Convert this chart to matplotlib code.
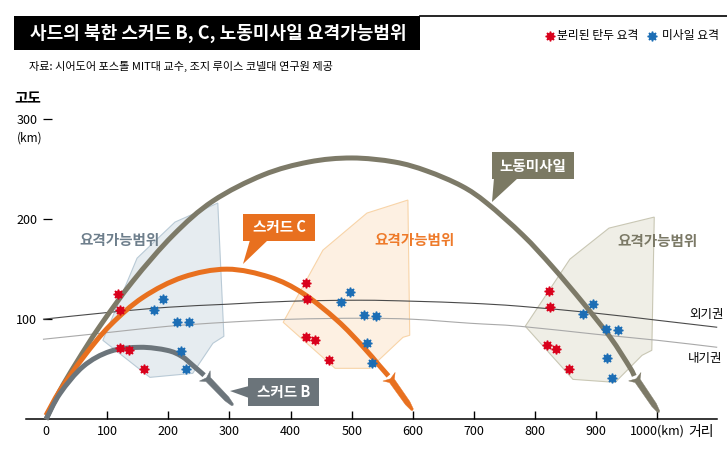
import numpy as np
import matplotlib
matplotlib.use('Agg')
import matplotlib.pyplot as plt
from matplotlib.patches import Polygon, Rectangle, PathPatch
from matplotlib.path import Path

plt.rcParams['font.family'] = ['Noto Sans CJK KR', 'DejaVu Sans']

# ---- 데이터 (그림에서 읽은 값, km) ----
nodong_x = [0, 22, 50, 88, 142, 208, 273, 355, 430, 500, 570, 623, 680, 721, 780, 829, 879, 923, 955, 965, 1003]
nodong_h = [0, 28, 57, 93, 138, 184, 218, 244, 257, 261, 257, 248, 233, 216, 184, 152, 116, 82, 52, 41, 7]

scud_c_x = [0, 23, 61, 105, 159, 224, 296, 366, 420, 476, 518, 545, 563, 600]
scud_c_h = [4, 29, 62, 94, 122, 142, 150, 142, 126, 99, 73, 54, 41, 9]

scud_b_x = [0, 23, 61, 105, 154, 198, 222, 242, 262, 306]
scud_b_h = [0, 26, 53, 68, 72, 69, 63, 53, 42, 14]

# 외기권 / 내기권 경계선
outer_x = [-5, 105, 200, 296, 400, 514, 600, 694, 775, 900, 1000, 1098]
outer_h = [100, 107, 112, 115, 118, 119, 118, 116, 113, 106, 99, 92]
inner_x = [-5, 105, 200, 296, 400, 514, 600, 694, 775, 900, 1000, 1098]
inner_h = [80, 87, 93, 97, 100, 101, 100, 96, 93, 85, 79, 72]

# 요격가능범위 영역
zone_b = [(93, 79), (149, 161), (211, 197), (281, 216), (291, 83), (273, 76), (240, 46), (170, 42)]
zone_c = [(388, 97), (453, 169), (525, 206), (592, 219), (595, 84), (584, 82), (530, 51), (473, 51)]
zone_n = [(784, 93), (857, 160), (921, 191), (995, 202), (991, 69), (975, 64), (931, 37), (862, 40)]

# 요격 지점
red_x = [118, 121, 121, 136, 160, 425, 427, 425, 440, 463, 823, 824, 820, 834, 856]
red_h = [125, 109, 71, 69, 50, 136, 120, 82, 79, 59, 128, 112, 74, 70, 50]
blue_x = [191, 177, 214, 234, 221, 229, 497, 483, 520, 540, 525, 533, 895, 878, 916, 936, 918, 926]
blue_h = [120, 109, 97, 97, 68, 50, 127, 117, 104, 103, 76, 56, 115, 105, 90, 89, 61, 41]

x_ticks = [0, 100, 200, 300, 400, 500, 600, 700, 800, 900, 1000]
x_labels = ['0', '100', '200', '300', '400', '500', '600', '700', '800', '900', '1000(km)']
y_ticks = [100, 200, 300]

W, H = 727, 463
fig = plt.figure(figsize=(W / 100, H / 100), dpi=100)
ax = fig.add_axes([0, 0, 1, 1])
ax.set_xlim(-75.25, 1114.0)
ax.set_ylim(-43.5, 418.7)


def fx(px):
    return px / W


def fy(py):
    return 1 - py / H


def smooth_path(pts):
    # 점들을 지나는 부드러운 곡선 (Catmull-Rom -> 베지어), 화면 좌표에서 계산
    pts = np.asarray(pts, dtype=float)
    ext = np.vstack([pts[0], pts, pts[-1]])
    verts = [pts[0]]
    codes = [Path.MOVETO]
    for i in range(1, len(ext) - 2):
        p0, p1, p2, p3 = ext[i - 1], ext[i], ext[i + 1], ext[i + 2]
        verts += [p1 + (p2 - p0) / 6, p2 - (p3 - p1) / 6, p2]
        codes += [Path.CURVE4] * 3
    return np.array(verts), codes


def curve(pts_disp, color, lw, z):
    verts, codes = smooth_path(pts_disp)
    verts = ax.transData.inverted().transform(verts)
    ax.add_patch(PathPatch(Path(verts, codes), fill=False, ec=color, lw=lw,
                           capstyle='butt', joinstyle='round', zorder=z))


# 축
for s in ['top', 'right', 'left']:
    ax.spines[s].set_visible(False)
ax.spines['bottom'].set_position(('data', 0))
ax.spines['bottom'].set_bounds(-33, 1098)
ax.spines['bottom'].set_linewidth(1.1)
ax.spines['left'].set_position(('data', 9.8))
ax.set_xticks(x_ticks)
ax.set_xticklabels(x_labels)
ax.set_yticks(y_ticks)
ax.tick_params(axis='x', direction='in', length=6, width=1, pad=4, labelsize=9)
ax.tick_params(axis='y', direction='out', length=6.5, width=0.9, pad=4, labelsize=9)
ax.text(1071, -13, '거리', fontsize=10, ha='center', va='center')

# 대기권 경계선
curve(ax.transData.transform(np.column_stack([outer_x, outer_h])), '#4a4a4a', 0.8, 3)
curve(ax.transData.transform(np.column_stack([inner_x, inner_h])), '#a9a9a9', 0.8, 3)
ax.text(1080, 105, '외기권', fontsize=9, ha='center', va='center')
ax.text(1078, 61, '내기권', fontsize=9, ha='center', va='center')

# 요격가능범위
ax.add_patch(Polygon(zone_b, closed=True, fc='#e6ecf0', ec='#b9cad6', lw=0.8, zorder=1))
ax.add_patch(Polygon(zone_c, closed=True, fc='#fdf0e2', ec='#f8d4a8', lw=0.8, zorder=1))
ax.add_patch(Polygon(zone_n, closed=True, fc='#efeee6', ec='#c9c7b4', lw=0.8, zorder=1))
ax.text(121, 179, '요격가능범위', fontsize=10.5, color='#6e7f8c', fontweight='bold',
        ha='center', va='center', zorder=2)
ax.text(602, 179, '요격가능범위', fontsize=10.5, color='#ee7a2a', fontweight='bold',
        ha='center', va='center', zorder=2)
ax.text(1001, 178, '요격가능범위', fontsize=10.5, color='#7b7966', fontweight='bold',
        ha='center', va='center', zorder=2)

# 요격 지점
ax.plot(red_x, red_h, ls='none', marker=(8, 1, 0), ms=7, color='#d9001b', mec='#d9001b', zorder=6)
ax.plot(blue_x, blue_h, ls='none', marker=(8, 1, 0), ms=7, color='#1b6db5', mec='#1b6db5', zorder=6)


def missile(xs, hs, color, lw=3.6):
    # 궤적 + 끝부분 탄두 모양
    pts = ax.transData.transform(np.column_stack([xs, hs]))
    F, T = pts[-2], pts[-1]
    d = (T - F) / np.hypot(*(T - F))
    n = np.array([-d[1], d[0]])
    line = np.vstack([pts[:-2], F - 3 * d])
    curve(line, color, lw, 5)
    head = [F - 2 * d + 7.5 * n, F + 3 * d + 3.0 * n, T - 9 * d + 2.7 * n, T - 1 * d + 1.3 * n,
            T, T - 1 * d - 1.3 * n, T - 9 * d - 2.7 * n, F + 3 * d - 3.0 * n,
            F - 2 * d - 7.5 * n, F + 0.5 * d]
    head = ax.transData.inverted().transform(np.array(head))
    ax.add_patch(Polygon(head, closed=True, fc=color, ec=color, lw=0.3, zorder=5))


missile(nodong_x, nodong_h, '#7d7a68')
missile(scud_c_x, scud_c_h, '#e8701f')
missile(scud_b_x, scud_b_h, '#6c757b')


def callout(box, tail, color, text):
    x0, y0, x1, y1 = box
    fig.patches.append(Rectangle((fx(x0), fy(y1)), fx(x1) - fx(x0), fy(y0) - fy(y1),
                                 transform=fig.transFigure, fc=color, ec='none', zorder=7))
    fig.patches.append(Polygon([(fx(a), fy(b)) for a, b in tail], closed=True,
                               transform=fig.transFigure, fc=color, ec='none', zorder=7))
    fig.text(fx((x0 + x1) / 2), fy((y0 + y1) / 2), text, color='white', fontsize=10.5,
             fontweight='bold', ha='center', va='center', zorder=8)


callout((243, 214, 315, 241), [(250, 240), (268, 240), (243, 264)], '#e8701f', '스커드 C')
callout((248, 378, 319, 406), [(249, 386), (249, 398), (230, 391)], '#6b747a', '스커드 B')
callout((492, 152, 574, 179), [(494, 178), (518, 178), (492, 202)], '#7b7963', '노동미사일')

# 제목
fig.patches.append(Rectangle((fx(14), fy(50)), fx(420) - fx(14), fy(16) - fy(50),
                             transform=fig.transFigure, fc='black', ec='none'))
fig.lines.append(plt.Line2D([fx(420), fx(727)], [fy(16), fy(16)], transform=fig.transFigure,
                            color='black', lw=1.2))
fig.text(fx(30), fy(33), '사드의 북한 스커드 B, C, 노동미사일 요격가능범위', color='white',
         fontsize=13, fontweight='bold', ha='left', va='center')
fig.text(fx(29), fy(66), '자료: 시어도어 포스톨 MIT대 교수, 조지 루이스 코넬대 연구원 제공',
         fontsize=8, ha='left', va='center')

# 범례
fig.lines.append(plt.Line2D([fx(550)], [fy(36)], transform=fig.transFigure, ls='none',
                            marker=(8, 1, 0), ms=7, color='#d9001b'))
fig.text(fx(557), fy(36), '분리된 탄두 요격', fontsize=8.5, ha='left', va='center')
fig.lines.append(plt.Line2D([fx(652)], [fy(36)], transform=fig.transFigure, ls='none',
                            marker=(8, 1, 0), ms=7, color='#1b6db5'))
fig.text(fx(662), fy(36), '미사일 요격', fontsize=8.5, ha='left', va='center')

# y축 제목
fig.text(fx(14), fy(98), '고도', fontsize=10.5, fontweight='bold', ha='left', va='center')
fig.text(fx(17), fy(138), '(km)', fontsize=8.5, ha='left', va='center')

fig.savefig('out.png', dpi=100)
